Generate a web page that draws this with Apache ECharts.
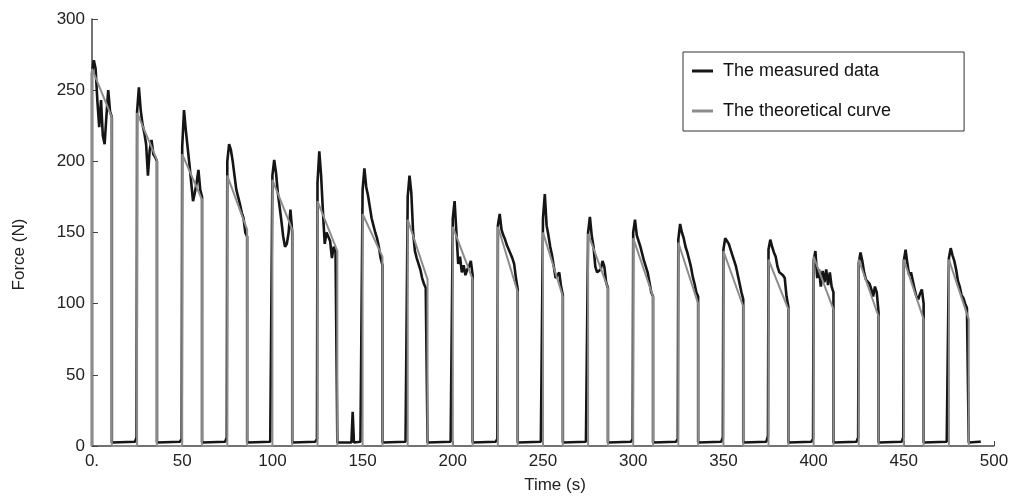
<!DOCTYPE html>
<html>
<head>
<meta charset="utf-8">
<script src="https://cdn.jsdelivr.net/npm/echarts@6/dist/echarts.min.js"></script>
<style>
  html, body { margin: 0; padding: 0; background: #fff; }
  #main { width: 1013px; height: 499px; }
</style>
</head>
<body>
<div id="main"></div>
<script>
// one loading pulse every 25 s, each lasting 11 s
const pulseStart = [0, 25, 50, 75, 100, 125, 150, 175, 200, 225, 250, 275, 300, 325, 350, 375, 400, 425, 450, 475];
const pulseLength = 11;
// measured force sampled 0..11 s after each rise
const sampleOffsets = [0, 1, 2, 3, 4, 5, 6, 7, 8, 9, 10, 11];
const measuredPulses = [
  [262, 271, 265, 242, 224, 243, 218, 212, 232, 250, 235, 231],
  [235, 252, 236, 226, 220, 212, 190, 208, 215, 205, 203, 200],
  [210, 236, 222, 210, 198, 185, 172, 178, 185, 194, 180, 175],
  [200, 212, 208, 200, 190, 180, 175, 170, 164, 160, 150, 147],
  [190, 201, 192, 178, 168, 158, 147, 140, 142, 150, 166, 150],
  [185, 207, 190, 165, 142, 150, 147, 144, 132, 140, 136, 135],
  [180, 195, 182, 176, 168, 160, 155, 150, 146, 140, 132, 127],
  [175, 190, 178, 150, 137, 132, 128, 124, 118, 114, 111, 110],
  [160, 172, 150, 128, 133, 122, 127, 120, 124, 126, 130, 120],
  [155, 163, 152, 148, 145, 141, 138, 135, 132, 128, 118, 110],
  [160, 177, 155, 148, 140, 134, 126, 118, 120, 122, 112, 106],
  [150, 161, 148, 140, 126, 122, 121, 124, 130, 126, 115, 111],
  [150, 159, 148, 144, 140, 135, 130, 126, 122, 115, 108, 105],
  [145, 156, 150, 146, 140, 136, 131, 126, 119, 114, 108, 105],
  [138, 146, 144, 142, 138, 134, 130, 126, 120, 114, 108, 103],
  [138, 145, 140, 136, 133, 126, 122, 121, 120, 118, 105, 98],
  [130, 137, 118, 124, 112, 123, 115, 124, 113, 122, 112, 108],
  [128, 136, 130, 122, 117, 116, 114, 110, 105, 112, 108, 94],
  [130, 138, 128, 120, 122, 116, 110, 105, 103, 107, 110, 100],
  [132, 139, 134, 130, 124, 116, 112, 106, 104, 100, 97, 96]
];
// theoretical curve: value right after the rise and just before the fall
const theoryStart = [265, 234, 205, 190, 187, 172, 163, 159, 154, 154, 150, 149, 146, 143, 137, 131, 133, 131, 131, 131];
const theoryEnd = [231, 201, 173, 152, 152, 137, 133, 117, 117, 108, 105, 111, 105, 100, 98, 96, 96, 91, 89, 89];
// measured force between pulses
const baselineLevel = 2.5;
const gapRise = [6, 5, 6, 4, 5, 4, 3, 4, 5, 4, 4, 5, 5, 6, 7, 5, 6, 6, 4, 3];
const spikeTime = [143.8, 144.5, 145.2];
const spikeValue = [2.5, 24, 2.5];
const recordEnd = 493;

const measured = [[0, 0]];
const theory = [[0, 0]];
pulseStart.forEach(function (t0, i) {
  const vals = measuredPulses[i];
  sampleOffsets.forEach(function (o, k) {
    measured.push([t0 + o, vals[k]]);
  });
  measured.push([t0 + pulseLength, baselineLevel]);
  const gapEnd = i < pulseStart.length - 1 ? pulseStart[i + 1] : recordEnd;
  measured.push([gapEnd - 1.2, baselineLevel + 0.5]);
  measured.push([gapEnd - 0.3, gapRise[i]]);
  if (i < pulseStart.length - 1) measured.push([gapEnd, gapRise[i]]);

  theory.push([t0, theoryStart[i]]);
  theory.push([t0 + pulseLength, theoryEnd[i]]);
  theory.push([t0 + pulseLength, 0]);
  if (i < pulseStart.length - 1) theory.push([pulseStart[i + 1], 0]);
});
spikeTime.forEach(function (t, k) {
  measured.push([t, spikeValue[k]]);
});
measured.sort(function (a, b) { return a[0] - b[0]; });

const chart = echarts.init(document.getElementById('main'));
const font = "'Liberation Sans', Arial, sans-serif";

chart.setOption({
  animation: false,
  backgroundColor: '#fff',
  textStyle: { fontFamily: font },
  grid: { left: 92, right: 19, top: 19, bottom: 52 },
  legend: {
    orient: 'vertical',
    left: 683,
    top: 52,
    padding: [10, 73, 11, 9],
    icon: 'rect',
    itemWidth: 21,
    itemHeight: 3,
    itemGap: 22,
    borderColor: '#333',
    borderWidth: 1,
    backgroundColor: '#fff',
    textStyle: { fontSize: 18, color: '#111', padding: [0, 0, 0, 5] },
    data: ['The measured data', 'The theoretical curve']
  },
  xAxis: {
    type: 'value',
    min: 0,
    max: 500,
    interval: 50,
    name: 'Time (s)',
    nameLocation: 'middle',
    nameGap: 31,
    nameTextStyle: { fontSize: 17, color: '#222', padding: [0, 0, 0, 24] },
    axisLine: { lineStyle: { color: '#444', width: 1.5 } },
    axisTick: { inside: true, length: 5, lineStyle: { color: '#444' } },
    axisLabel: {
      fontSize: 17,
      color: '#222',
      margin: 7,
      formatter: function (v) { return v === 0 ? '0.' : String(v); }
    },
    splitLine: { show: false }
  },
  yAxis: {
    type: 'value',
    min: 0,
    max: 300,
    interval: 50,
    name: 'Force (N)',
    nameLocation: 'middle',
    nameGap: 64,
    nameTextStyle: { fontSize: 17, color: '#222', padding: [0, 44, 0, 0] },
    axisLine: { show: true, lineStyle: { color: '#444', width: 1.5 } },
    axisTick: { show: true, inside: true, length: 6, lineStyle: { color: '#444' } },
    axisLabel: { fontSize: 17, color: '#222', margin: 7 },
    splitLine: { show: false }
  },
  series: [
    {
      name: 'The measured data',
      type: 'line',
      data: measured,
      symbol: 'none',
      lineStyle: { color: '#151515', width: 2.6 },
      itemStyle: { color: '#151515' }
    },
    {
      name: 'The theoretical curve',
      type: 'line',
      data: theory,
      symbol: 'none',
      lineStyle: { color: '#8c8c8c', width: 2 },
      itemStyle: { color: '#8c8c8c' }
    }
  ]
});
</script>
</body>
</html>
